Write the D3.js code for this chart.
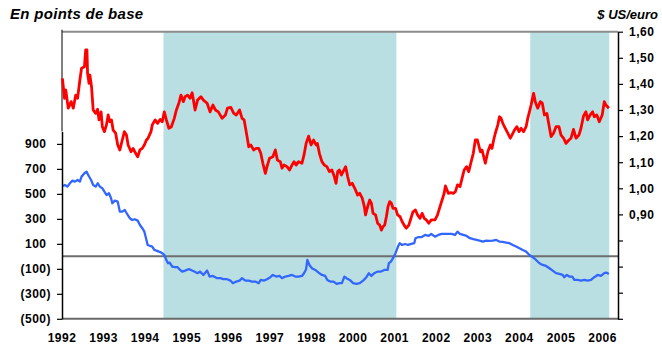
<!DOCTYPE html>
<html><head><meta charset="utf-8">
<script src="https://cdn.jsdelivr.net/npm/d3@7"></script>
<style>
body{margin:0;background:#fff}
svg{display:block;font-family:"Liberation Sans",Arial,sans-serif}
</style>
</head><body>
<svg id="chart" width="662" height="344"></svg>
<script>
// Category labels along the time axis (one per axis unit)
const yearLabels = ["1992","1993","1994","1995","1996","1997","1998","2000","2001","2002","2003","2004","2005","2006"];
// Shaded periods, in axis units
const shadedPeriods = [[2.44, 8.04], [11.26, 13.16]];
// Axis ticks
const leftTicks = [-500, -300, -100, 100, 300, 500, 700, 900];
const rightTicks = [0.5, 0.6, 0.7, 0.8, 0.9, 1.0, 1.1, 1.2, 1.3, 1.4, 1.5, 1.6];
const rightLabelled = [0.9, 1.0, 1.1, 1.2, 1.3, 1.4, 1.5, 1.6];

// USD per euro (right axis): [axis position, value]
const eurUsd = [
[0.01,1.421],[0.06,1.345],[0.09,1.377],[0.15,1.307],[0.22,1.332],[0.27,1.307],[0.33,1.357],[0.375,1.345],[0.43,1.415],[0.47,1.460],
[0.54,1.466],[0.57,1.530],[0.60,1.530],[0.615,1.441],[0.65,1.402],[0.67,1.434],[0.71,1.389],[0.75,1.300],[0.81,1.287],[0.855,1.303],
[0.89,1.262],[0.94,1.293],[0.97,1.236],[1.02,1.217],[1.07,1.243],[1.11,1.281],[1.15,1.255],[1.19,1.262],[1.23,1.223],[1.29,1.211],
[1.34,1.166],[1.39,1.147],[1.45,1.185],[1.50,1.217],[1.55,1.204],[1.59,1.166],[1.66,1.140],[1.71,1.153],[1.77,1.134],[1.82,1.121],
[1.875,1.147],[1.93,1.153],[1.98,1.166],[2.03,1.185],[2.07,1.192],[2.14,1.217],[2.17,1.243],[2.24,1.262],[2.30,1.249],[2.36,1.264],
[2.41,1.255],[2.46,1.293],[2.51,1.262],[2.57,1.230],[2.63,1.236],[2.70,1.268],[2.75,1.300],[2.81,1.326],[2.86,1.357],[2.92,1.332],
[2.96,1.351],[3.02,1.357],[3.08,1.345],[3.13,1.366],[3.20,1.300],[3.26,1.338],[3.34,1.351],[3.40,1.338],[3.49,1.326],[3.56,1.293],
[3.63,1.319],[3.69,1.300],[3.76,1.293],[3.85,1.268],[3.93,1.281],[3.98,1.307],[4.06,1.310],[4.13,1.287],[4.19,1.281],[4.27,1.300],
[4.33,1.268],[4.38,1.262],[4.45,1.198],[4.49,1.159],[4.54,1.166],[4.61,1.147],[4.67,1.153],[4.73,1.153],[4.78,1.134],[4.83,1.096],
[4.89,1.057],[4.93,1.083],[4.99,1.115],[5.07,1.121],[5.13,1.147],[5.18,1.108],[5.25,1.102],[5.29,1.077],[5.34,1.089],[5.41,1.083],
[5.47,1.070],[5.53,1.089],[5.58,1.102],[5.63,1.089],[5.69,1.102],[5.77,1.096],[5.82,1.128],[5.87,1.172],[5.93,1.200],[5.99,1.166],
[6.05,1.185],[6.11,1.166],[6.14,1.172],[6.19,1.134],[6.25,1.102],[6.31,1.089],[6.37,1.083],[6.43,1.064],[6.49,1.070],[6.55,1.044],
[6.59,1.019],[6.63,1.064],[6.67,1.070],[6.72,1.051],[6.76,1.064],[6.82,1.083],[6.87,1.044],[6.92,1.013],[6.98,1.019],[7.04,1.000],
[7.11,0.974],[7.16,0.981],[7.22,0.962],[7.27,0.930],[7.30,0.898],[7.35,0.930],[7.40,0.955],[7.44,0.943],[7.48,0.904],[7.54,0.898],
[7.59,0.866],[7.64,0.859],[7.68,0.840],[7.72,0.853],[7.76,0.859],[7.80,0.891],[7.84,0.930],[7.88,0.949],[7.92,0.943],[7.96,0.923],
[8.02,0.923],[8.07,0.898],[8.13,0.891],[8.18,0.872],[8.25,0.853],[8.28,0.847],[8.34,0.859],[8.39,0.885],[8.44,0.910],[8.50,0.917],
[8.55,0.898],[8.61,0.885],[8.66,0.904],[8.71,0.885],[8.76,0.879],[8.82,0.866],[8.88,0.879],[8.97,0.879],[9.03,0.898],[9.09,0.930],
[9.14,0.955],[9.19,0.981],[9.22,1.009],[9.29,0.981],[9.35,0.983],[9.41,0.981],[9.46,0.987],[9.51,1.013],[9.57,1.006],[9.62,1.038],
[9.67,1.070],[9.73,1.083],[9.78,1.064],[9.83,1.096],[9.89,1.134],[9.94,1.185],[9.99,1.185],[10.06,1.140],[10.10,1.147],[10.13,1.128],
[10.18,1.096],[10.24,1.140],[10.30,1.166],[10.34,1.153],[10.38,1.185],[10.42,1.211],[10.48,1.243],[10.52,1.274],[10.56,1.268],[10.60,1.249],
[10.66,1.230],[10.72,1.211],[10.78,1.192],[10.82,1.204],[10.88,1.223],[10.94,1.236],[10.99,1.217],[11.04,1.230],[11.10,1.217],[11.16,1.236],
[11.20,1.268],[11.24,1.293],[11.28,1.319],[11.34,1.364],[11.38,1.332],[11.44,1.307],[11.50,1.332],[11.55,1.326],[11.60,1.281],[11.66,1.287],
[11.71,1.243],[11.76,1.198],[11.82,1.211],[11.88,1.236],[11.95,1.236],[12.00,1.204],[12.06,1.192],[12.12,1.172],[12.19,1.185],[12.24,1.192],
[12.30,1.226],[12.36,1.192],[12.43,1.204],[12.48,1.230],[12.54,1.277],[12.60,1.293],[12.64,1.262],[12.70,1.281],[12.76,1.293],[12.80,1.274],
[12.86,1.281],[12.92,1.255],[12.99,1.281],[13.04,1.332],[13.08,1.319],[13.15,1.307]
];

// Spread in basis points (left axis): [axis position, value]
const spread = [
[0.01,563],[0.07,571],[0.13,558],[0.19,585],[0.25,606],[0.31,598],[0.375,611],[0.43,598],[0.47,638],[0.54,665],
[0.59,678],[0.63,651],[0.70,611],[0.75,571],[0.81,558],[0.86,585],[0.91,558],[0.97,545],[1.02,518],[1.07,491],
[1.13,505],[1.18,465],[1.21,425],[1.27,446],[1.34,438],[1.39,358],[1.45,358],[1.51,371],[1.58,331],[1.63,305],
[1.69,291],[1.75,297],[1.82,286],[1.875,251],[1.93,225],[1.98,198],[2.01,158],[2.06,91],[2.12,83],[2.17,78],
[2.22,51],[2.27,46],[2.33,38],[2.39,30],[2.46,11],[2.51,-29],[2.55,-55],[2.59,-50],[2.65,-82],[2.72,-87],
[2.78,-87],[2.84,-109],[2.89,-122],[2.96,-114],[3.04,-103],[3.10,-109],[3.18,-122],[3.26,-135],[3.32,-122],[3.40,-149],
[3.49,-114],[3.55,-162],[3.63,-157],[3.73,-175],[3.81,-175],[3.88,-183],[3.97,-183],[4.05,-194],[4.11,-215],[4.19,-202],
[4.27,-194],[4.33,-175],[4.41,-194],[4.49,-194],[4.57,-202],[4.65,-202],[4.73,-215],[4.78,-189],[4.86,-194],[4.93,-183],
[5.01,-167],[5.07,-149],[5.15,-162],[5.23,-157],[5.29,-175],[5.37,-162],[5.45,-157],[5.53,-149],[5.61,-162],[5.69,-162],
[5.77,-157],[5.82,-135],[5.87,-103],[5.90,-29],[5.95,-69],[6.01,-95],[6.09,-109],[6.17,-130],[6.25,-149],[6.33,-157],
[6.38,-189],[6.45,-202],[6.53,-202],[6.61,-221],[6.67,-215],[6.73,-215],[6.79,-162],[6.84,-175],[6.92,-189],[7.00,-215],
[7.08,-221],[7.16,-215],[7.24,-194],[7.32,-167],[7.38,-135],[7.44,-157],[7.51,-135],[7.59,-122],[7.67,-122],[7.75,-109],
[7.83,-109],[7.86,-55],[7.91,-42],[7.96,-15],[8.02,25],[8.08,78],[8.12,105],[8.18,91],[8.25,99],[8.32,91],
[8.40,99],[8.47,105],[8.50,145],[8.56,153],[8.64,153],[8.73,171],[8.81,163],[8.88,179],[8.97,158],[9.05,171],
[9.13,179],[9.21,179],[9.29,179],[9.37,179],[9.45,171],[9.51,198],[9.57,179],[9.65,171],[9.73,163],[9.81,145],
[9.89,137],[9.97,131],[10.04,126],[10.12,118],[10.20,126],[10.28,123],[10.36,126],[10.44,131],[10.52,118],[10.60,115],
[10.68,110],[10.76,105],[10.84,91],[10.92,78],[11.00,65],[11.08,51],[11.16,38],[11.24,11],[11.32,-7],[11.40,-29],
[11.48,-55],[11.56,-69],[11.64,-77],[11.72,-95],[11.80,-114],[11.88,-135],[11.96,-141],[12.04,-149],[12.08,-167],[12.14,-149],
[12.20,-162],[12.27,-162],[12.32,-189],[12.40,-189],[12.48,-194],[12.56,-189],[12.64,-194],[12.72,-189],[12.80,-167],[12.88,-149],
[12.96,-157],[13.04,-135],[13.09,-130],[13.15,-141]
];

const svg = d3.select("#chart");
const plot = {left: 62, right: 618, top: 31.7, bottom: 318.8};

const x = d3.scaleLinear().domain([0, 13.37]).range([plot.left, plot.right]);
const yR = d3.scaleLinear().domain([0.5, 1.6]).range([plot.bottom, plot.top]);
const yL = d3.scaleLinear().domain([-500, 1000]).range([plot.bottom, 131.4]);

// Shaded periods
svg.append("g").selectAll("rect").data(shadedPeriods).join("rect")
  .attr("x", d => x(d[0])).attr("width", d => x(d[1]) - x(d[0]))
  .attr("y", plot.top).attr("height", plot.bottom - plot.top)
  .attr("fill", "#b9dfe2");

// Plot frame
svg.append("line").attr("x1", plot.left).attr("x2", plot.right)
  .attr("y1", plot.top).attr("y2", plot.top)
  .attr("stroke", "#8c8c8c").attr("stroke-width", 2);
svg.append("line").attr("x1", plot.left).attr("x2", plot.left)
  .attr("y1", plot.top - 2).attr("y2", yL(1000))
  .attr("stroke", "#000").attr("stroke-width", 1);
svg.append("line").attr("x1", plot.left).attr("x2", plot.right)
  .attr("y1", plot.bottom).attr("y2", plot.bottom)
  .attr("stroke", "#6a6a6a").attr("stroke-width", 2);

// Zero line of the spread
svg.append("line").attr("x1", plot.left).attr("x2", plot.right)
  .attr("y1", yL(0)).attr("y2", yL(0))
  .attr("stroke", "#6e6e6e").attr("stroke-width", 2);

// Series
const lineR = d3.line().x(d => x(d[0])).y(d => yR(d[1]));
const lineL = d3.line().x(d => x(d[0])).y(d => yL(d[1]));
svg.append("path").datum(spread).attr("d", lineL)
  .attr("fill", "none").attr("stroke", "#3366ff").attr("stroke-width", 2.3).attr("stroke-linejoin", "round");
svg.append("path").datum(eurUsd).attr("d", lineR)
  .attr("fill", "none").attr("stroke", "#ff0000").attr("stroke-width", 2.8).attr("stroke-linejoin", "round");

// Left axis (basis points, negatives in parentheses)
const fmtL = d => d < 0 ? "(" + Math.abs(d) + ")" : String(d);
const gL = svg.append("g").attr("transform", `translate(${plot.left},0)`)
  .call(d3.axisLeft(yL).tickValues(leftTicks).tickSize(5).tickSizeOuter(0).tickPadding(6).tickFormat(fmtL));
gL.select(".domain").attr("stroke", "#000").attr("stroke-width", 1.5);
gL.selectAll(".tick line").attr("stroke", "#000").attr("stroke-width", 1.2);
gL.selectAll(".tick text")
  .attr("dx", d => d < 0 ? 0 : -4.5)
  .attr("font-size", 12).attr("font-weight", "bold").attr("letter-spacing", 0.5)
  .attr("font-family", "Liberation Sans, Arial, sans-serif").attr("fill", "#000");

// Right axis (USD per euro, decimal comma)
const fmtR = d => rightLabelled.some(v => Math.abs(v - d) < 1e-9) ? d3.format(".2f")(d).replace(".", ",") : "";
const gR = svg.append("g").attr("transform", `translate(${plot.right},0)`)
  .call(d3.axisRight(yR).tickValues(rightTicks).tickSize(5).tickSizeOuter(0).tickPadding(6).tickFormat(fmtR));
gR.select(".domain").attr("stroke", "#000").attr("stroke-width", 1.5);
gR.selectAll(".tick line").attr("stroke", "#000").attr("stroke-width", 1.2);
gR.selectAll(".tick text")
  .attr("font-size", 12).attr("font-weight", "bold").attr("letter-spacing", 0.5)
  .attr("font-family", "Liberation Sans, Arial, sans-serif").attr("fill", "#000");

// Year labels
svg.append("g").selectAll("text").data(yearLabels).join("text")
  .attr("x", (d, i) => x(i)).attr("y", 342)
  .attr("text-anchor", "middle")
  .attr("font-size", 12).attr("font-weight", "bold").attr("letter-spacing", 0.5)
  .text(d => d);

// Axis titles
svg.append("text").attr("x", 10).attr("y", 19)
  .attr("font-size", 15).attr("font-weight", "bold").attr("font-style", "italic")
  .attr("letter-spacing", 0.3)
  .text("En points de base");
svg.append("text").attr("x", 658).attr("y", 19).attr("text-anchor", "end")
  .attr("font-size", 13).attr("font-weight", "bold").attr("font-style", "italic")
  .text("$ US/euro");
</script>
</body></html>
